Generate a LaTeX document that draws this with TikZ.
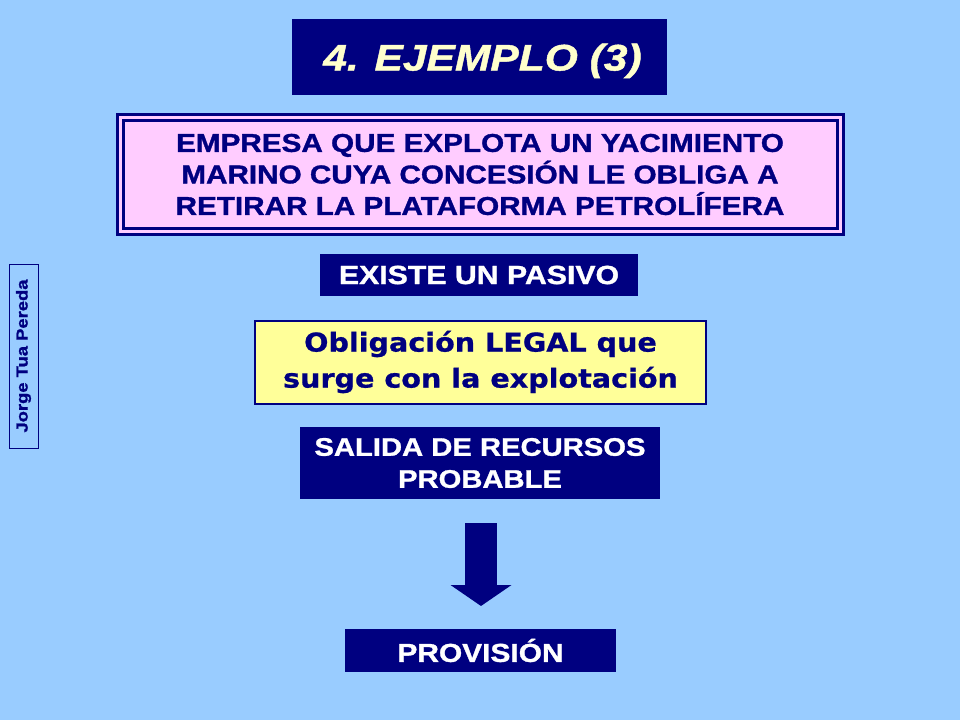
\documentclass[tikz,border=0pt]{standalone}
\usepackage{fontspec}
\setmainfont{Liberation Sans}
\newfontfamily\heavy{Liberation Sans}[BoldFont={Liberation Sans Bold}, BoldItalicFont={Liberation Sans Bold Italic}, BoldFeatures={FakeBold=1.2}, BoldItalicFeatures={FakeBold=1.2}, FakeStretch=1.15]
\newfontfamily\wideface{DejaVu Sans}[BoldFeatures={FakeBold=0.8}, FakeStretch=1.1]
\usetikzlibrary{arrows.meta}

\begin{document}
\begin{tikzpicture}[x=1pt,y=-1pt,
  darkbox/.style={draw=none, fill=navy, text=white, font=\heavy\bfseries\fontsize{26.3}{32}\selectfont, align=center, inner sep=0pt},
  lightbox/.style={fill=#1, text=navy, align=center, inner sep=0pt}]
\definecolor{navy}{HTML}{000080}
\definecolor{skyback}{HTML}{99CCFF}
\definecolor{pinkfill}{HTML}{FFCCFF}
\definecolor{yellowfill}{HTML}{FFFF99}
\definecolor{cream}{HTML}{FFFFCC}

\fill[skyback] (0,0) rectangle (960,720);
\useasboundingbox (0,0) rectangle (960,720);

% title
\node[darkbox, minimum width=375pt, minimum height=76pt, text=cream, text height=33pt, text depth=6pt,
  font=\heavy\bfseries\itshape\fontsize{37}{40}\selectfont] (titulo) at (479.5,57) {4. EJEMPLO (3)\hspace{-6pt}};

% statement of the case
\node[lightbox=pinkfill, draw=navy, line width=3pt, double=pinkfill, double distance=3pt,
  minimum width=720pt, minimum height=114pt,
  font=\heavy\bfseries\fontsize{25.8}{31.5}\selectfont] (empresa) at (480,174.5)
  {EMPRESA QUE EXPLOTA UN YACIMIENTO\\ MARINO CUYA CONCESIÓN LE OBLIGA A\\ RETIRAR LA PLATAFORMA PETROLÍFERA};

\node[darkbox, minimum width=318pt, minimum height=42pt] (pasivo) at (479,275) {EXISTE UN PASIVO};

\node[lightbox=yellowfill, draw=navy, line width=2pt, minimum width=451pt, minimum height=83pt,
  font=\wideface\bfseries\fontsize{26}{36}\selectfont] (legal) at (480.5,362)
  {Obligación LEGAL que\\ surge con la explotación};

\node[darkbox, minimum width=360pt, minimum height=72pt, font=\heavy\bfseries\fontsize{25.4}{32}\selectfont] (salida) at (480,463)
  {SALIDA DE RECURSOS\\ PROBABLE};

\node[darkbox, minimum width=271pt, minimum height=43pt, font=\heavy\bfseries\fontsize{26}{32}\selectfont] (provision) at (480.5,650.5) {PROVISIÓN};

% block arrow
\coordinate (flechaini) at (481,523);
\coordinate (flechafin) at (481,606);
\draw[navy, line width=32pt, -{Triangle[width=60pt,length=21pt]}] (flechaini) -- (flechafin);

% side label
\node[draw=navy, line width=0.8pt, text=navy, rotate=90, minimum width=184pt, minimum height=29pt, inner sep=0pt,
  font=\heavy\bfseries\fontsize{16}{18}\selectfont] (autor) at (23.5,356) {Jorge Tua Pereda};

\end{tikzpicture}
\end{document}
